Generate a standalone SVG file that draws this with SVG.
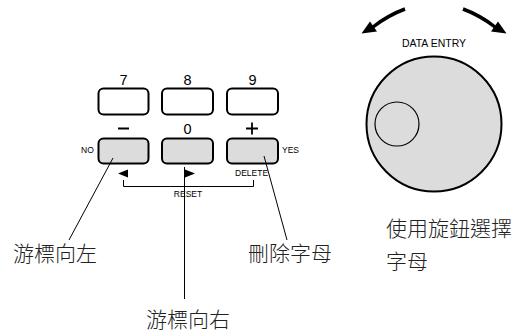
<svg xmlns="http://www.w3.org/2000/svg" width="532" height="333" viewBox="0 0 532 333">
<style>
.key{fill:#fff;stroke:#000;stroke-width:2}
.keyg{fill:#dcdcdc;stroke:#000;stroke-width:2}
.num{font-family:"Liberation Sans",Arial,sans-serif;font-size:14.5px;fill:#000;text-anchor:middle}
.sm{font-family:"Liberation Sans",Arial,sans-serif;font-size:8.5px;fill:#000}
.cjk{font-family:"Noto Sans CJK TC","Noto Sans CJK SC",sans-serif;font-size:21px;font-weight:300;fill:#222}
.lead{stroke:#000;stroke-width:1;fill:none}
.rot{stroke:#000;stroke-width:3.5;fill:none}
</style>
<g id="key7"><rect class="key" x="98.5" y="88.5" width="50" height="26" rx="5"/><text class="num" x="123.5" y="85">7</text></g>
<g id="key8"><rect class="key" x="162" y="88.5" width="51" height="26" rx="5"/><text class="num" x="187.5" y="85">8</text></g>
<g id="key9"><rect class="key" x="227" y="88.5" width="51" height="26" rx="5"/><text class="num" x="252.5" y="85">9</text></g>
<g id="keyMinus"><rect class="keyg" x="98.5" y="138.5" width="50" height="25" rx="5"/><line x1="118" y1="128.5" x2="129" y2="128.5" stroke="#000" stroke-width="2"/><text class="sm" x="81" y="153">NO</text><polygon points="118,173.5 128,169.5 128,177.5" fill="#000"/></g>
<g id="key0"><rect class="keyg" x="162" y="138.5" width="51" height="25" rx="5"/><text class="num" x="187.5" y="133.5">0</text><polygon points="195,173.5 185,169.5 185,177.5" fill="#000"/></g>
<g id="keyPlus"><rect class="keyg" x="227" y="138.5" width="51" height="25" rx="5"/><path d="M246,128.5 H258 M252,122.5 V134.5" stroke="#000" stroke-width="1.8"/><text class="sm" x="282" y="153">YES</text><text class="sm" x="235" y="176">DELETE</text></g>
<g id="reset"><polyline class="lead" points="123.5,180 123.5,186.5 253.5,186.5 253.5,180" stroke-width="1.3"/><text class="sm" x="188" y="196.5" text-anchor="middle">RESET</text></g>
<g id="dial">
<text class="sm" x="434" y="47" text-anchor="middle" style="font-size:10.5px">DATA ENTRY</text>
<circle cx="434" cy="124" r="67.5" fill="#dcdcdc" stroke="#000" stroke-width="2"/>
<circle cx="397" cy="124" r="22" fill="none" stroke="#000" stroke-width="1.2"/>
<path class="rot" d="M405,9 A117,117 0 0 0 373,27"/>
<polygon points="361.5,33.5 370,21.5 377,31.5" fill="#000"/>
<path class="rot" d="M463,9 A117,117 0 0 1 495,27"/>
<polygon points="506.5,33.5 498,21.5 491,31.5" fill="#000"/>
</g>
<g id="connectors">
<line class="lead" x1="113" y1="158" x2="69" y2="240"/>
<line class="lead" x1="184.5" y1="167" x2="184.5" y2="299"/>
<line class="lead" x1="264" y1="156" x2="287" y2="240"/>
</g>
<g id="labelLeft"><text class="cjk" x="13" y="261">游標向左</text></g>
<g id="labelRight"><text class="cjk" x="146" y="327">游標向右</text></g>
<g id="labelDelete"><text class="cjk" x="248" y="261">刪除字母</text></g>
<g id="labelDial"><text class="cjk" x="386" y="236">使用旋鈕選擇</text><text class="cjk" x="386" y="269">字母</text></g>
</svg>
